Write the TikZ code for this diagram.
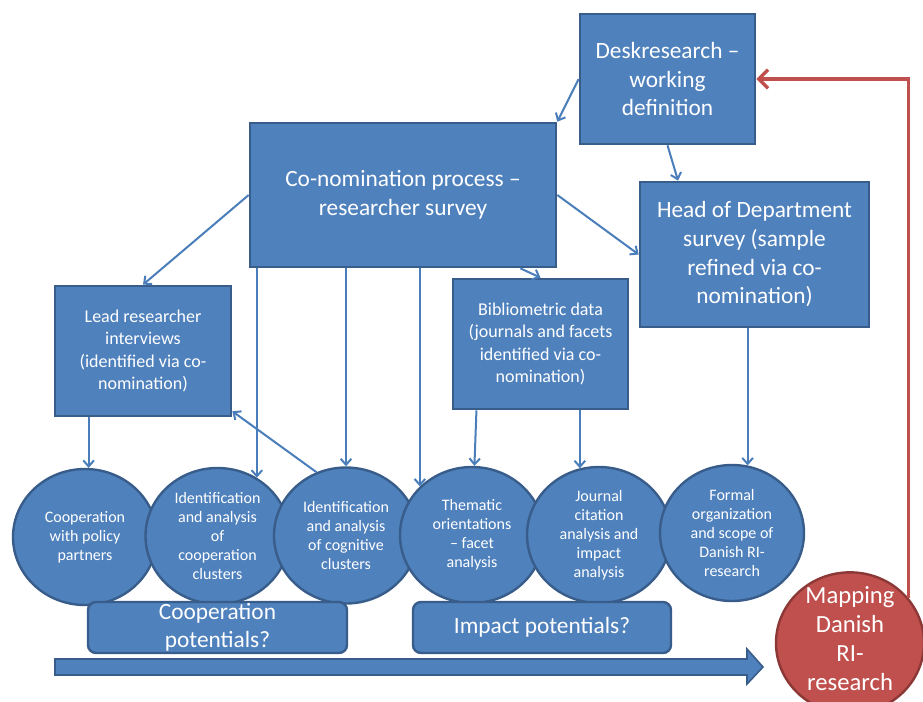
\documentclass[tikz,border=0pt]{standalone}
\usepackage{fontspec}
\setmainfont{Carlito}
\usetikzlibrary{shapes.geometric,arrows.meta}

\definecolor{boxblue}{RGB}{79,129,189}
\definecolor{boxedge}{RGB}{56,93,138}
\definecolor{lineblue}{RGB}{74,126,187}
\definecolor{mapred}{RGB}{192,80,77}
\definecolor{mapedge}{RGB}{140,56,54}

\begin{document}
\begin{tikzpicture}[x=0.75pt,y=0.75pt,yscale=-1,xscale=1,
	rectbox/.style={draw=boxedge,line width=2pt,fill=boxblue,text=white,align=center,inner sep=0pt},
	bigfont/.style={font=\fontsize{17.5}{21.5}\selectfont},
	smallfont/.style={font=\fontsize{13.5}{16.8}\selectfont},
	circbox/.style={ellipse,draw=boxedge,line width=1.8pt,fill=boxblue,text=white,align=center,inner sep=0pt,minimum width=108pt,minimum height=102pt,font=\fontsize{12}{14.25}\selectfont},
	mapcirc/.style={ellipse,draw=mapedge,line width=1.8pt,fill=mapred,minimum width=111pt,minimum height=106pt},
	potbox/.style={draw=boxedge,line width=1.8pt,fill=boxblue,rounded corners=6pt,minimum height=38.25pt},
	pottext/.style={text=white,align=center,inner sep=0pt,font=\fontsize{17.5}{21}\selectfont},
	flow/.style={draw=lineblue,line width=1.5pt,-{Straight Barb[length=4.5pt,width=8pt]}},
	feedback/.style={draw=mapred,line width=2.5pt,-{Straight Barb[length=7pt,width=14pt]}}
]
	%set diagram size 923 x 701
	\useasboundingbox (0,0) rectangle (923,701);
	\clip (0,0) rectangle (923,701);
	\fill [white] (0,0) rectangle (923,701);
	
	%Shape: Rectangle [desk research]
	\node (desk) [rectbox,bigfont,minimum width=131.25pt,minimum height=97.5pt] at (667.5,79) {Deskresearch –\\working\\definition};
	%Shape: Rectangle [co-nomination]
	\node (conom) [rectbox,bigfont,minimum width=229.5pt,minimum height=108pt] at (403,195) {Co-nomination process –\\researcher survey};
	%Shape: Rectangle [head of department]
	\node (head) [rectbox,bigfont,minimum width=171.75pt,minimum height=108.75pt] at (754.5,254.5) {Head of Department\\survey (sample\\refined via co-\\nomination)};
	%Shape: Rectangle [lead researcher]
	\node (lead) [rectbox,smallfont,minimum width=132pt,minimum height=97.5pt] at (143,351) {Lead researcher\\interviews\\(identified via co-\\nomination)};
	%Shape: Rectangle [bibliometric]
	\node (biblio) [rectbox,smallfont,minimum width=131.25pt,minimum height=97.5pt] at (540.5,344) {Bibliometric data\\(journals and facets\\identified via co-\\nomination)};
	
	%Shape: Ellipse row
	\node (coop) [circbox] at (85,537) {Cooperation\\with policy\\partners};
	\node (coclu) [circbox] at (217.5,536) {Identification\\and analysis\\of\\cooperation\\clusters};
	\node (cogclu) [circbox] at (346,535.5) {Identification\\and analysis\\of cognitive\\clusters};
	\node (theme) [circbox] at (472,535) {Thematic\\orientations\\– facet\\analysis};
	\node (cite) [circbox] at (599,535) {Journal\\citation\\analysis and\\impact\\analysis};
	\node (formal) [circbox] at (732,533) {Formal\\organization\\and scope of\\Danish RI-\\research};
	
	%Shape: Rounded Rectangle [potentials]
	\node (coopot) [potbox,minimum width=194.25pt] at (217.5,627.5) {};
	\node (coopottext) [pottext] at (coopot) {Cooperation\\potentials?};
	\node (imppot) [potbox,minimum width=193.5pt] at (542,627.5) {};
	\node (imppottext) [pottext] at (imppot) {Impact potentials?};
	
	%Shape: Right Arrow
	\draw [draw=boxedge,fill=boxblue,line width=1.2pt] (55,659) -- (747,659) -- (747,649) -- (763,667) -- (747,684) -- (747,675) -- (55,675) -- cycle;
	
	%Shape: Circle [mapping]
	\node (mapping) [mapcirc] at (850,643) {};
	\node (maptext) [pottext,font=\fontsize{18.5}{21.75}\selectfont] at (850,639) {Mapping\\Danish\\RI-\\research};
	
	%Straight Lines
	\draw [flow] (desk.west) -- (conom.north east);
	\draw [flow] (desk.south) -- (head.136);
	\draw [flow] (conom.east) -- (head.west);
	\draw [flow] (conom.-32) -- (biblio.north);
	\draw [flow] (conom.west) -- (lead.north);
	\draw [flow] (conom.south -| coclu.56) -- (coclu.56);
	\draw [flow] (conom.south -| cogclu.north) -- (cogclu.north);
	\draw [flow] (conom.south -| theme.137) -- (theme.137);
	\draw [flow] (lead.south -| coop.87) -- (coop.87);
	\draw [flow] (cogclu.115) -- (lead.-34);
	\draw [flow] (biblio.-134) -- (theme.88);
	\draw [flow] (biblio.south -| cite.106) -- (cite.106);
	\draw [flow] (head.south -| formal.77) -- (formal.77);
	
	%Red feedback line
	\draw [feedback] (mapping.38) |- (desk.east);
	
\end{tikzpicture}
\end{document}
